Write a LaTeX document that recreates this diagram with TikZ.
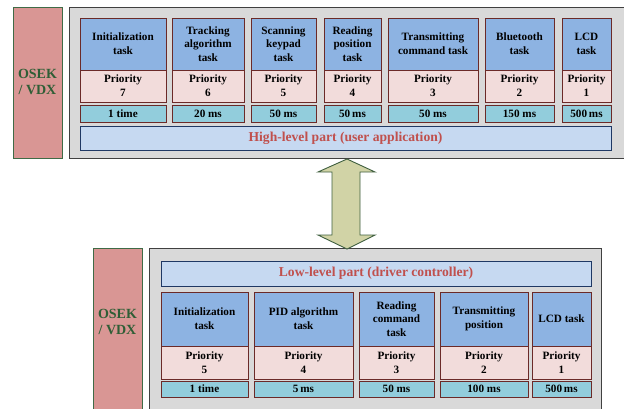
\documentclass[tikz,border=0pt]{standalone}
\usepackage{fontspec}
\setmainfont{Liberation Serif}
\usetikzlibrary{fit}
\definecolor{taskblue}{HTML}{8DB3E2}
\definecolor{priopink}{HTML}{F2DCDB}
\definecolor{timecyan}{HTML}{92CDDC}
\definecolor{barblue}{HTML}{C6D9F1}
\definecolor{panelgray}{HTML}{D9D9D9}
\definecolor{osekfill}{HTML}{D99694}
\definecolor{osekline}{HTML}{3F6B46}
\definecolor{osektext}{HTML}{2F5E36}
\definecolor{redtext}{HTML}{C0504D}
\definecolor{boxline}{HTML}{6B2A28}
\definecolor{barline}{HTML}{1F3864}
\definecolor{arrowfill}{HTML}{D1D3A6}
\definecolor{arrowline}{HTML}{3F5F3F}
\tikzset{
  txt/.style={inner sep=0pt, align=center, font=\fontsize{11.2}{13.8}\selectfont\bfseries},
  bartxt/.style={inner sep=0pt, text=redtext, font=\fontsize{13.6}{15}\selectfont\bfseries},
  osektxt/.style={inner sep=0pt, align=center, text=osektext, font=\fontsize{14}{16}\selectfont\bfseries},
  taskbox/.style={inner sep=0pt, draw=boxline, fill=taskblue, line width=0.8pt},
  priobox/.style={inner sep=0pt, draw=boxline, fill=priopink, line width=0.8pt},
  timebox/.style={inner sep=0pt, draw=boxline, fill=timecyan, line width=0.8pt},
  barbox/.style={inner sep=0pt, draw=barline, fill=barblue, line width=0.8pt},
  panel/.style={inner sep=0pt, draw=black!75, fill=panelgray, line width=1pt},
  osek/.style={inner sep=0pt, draw=osekline, fill=osekfill, line width=1pt},
}
\newcommand\mytask[6]{%
  \node[taskbox, fit={(#2,\ya)(#3,\yb)}] (#1t) {};
  \node[txt] (#1tl) at (#1t.center) {#4};
  \node[priobox, fit={(#2,\yb)(#3,\yc)}] (#1p) {};
  \node[txt] (#1pl) at (#1p.center) {Priority\\#5};
  \node[timebox, fit={(#2,\yd)(#3,\ye)}] (#1m) {};
  \node[txt] (#1ml) at (#1m.center) {#6};
}
\begin{document}
\begin{tikzpicture}[x=1pt,y=-1pt]
\useasboundingbox (0,0) rectangle (624,408);
% top part
\node[osek, fit={(13,7)(62,158)}] (osekA) {};
\node[osektxt] (osekAl) at (37.5,82) {OSEK\\/ VDX};
\node[panel, fit={(69,7)(640,158)}] (panelA) {};
\def\ya{18}\def\yb{70}\def\yc{102}\def\yd{105}\def\ye{122}
\mytask{a1}{80}{166}{Initialization\\task}{7}{1 time}
\mytask{a2}{172}{244}{Tracking\\algorithm\\task}{6}{20 ms}
\mytask{a3}{251}{316}{Scanning\\keypad\\task}{5}{50 ms}
\mytask{a4}{324}{381}{Reading\\position\\task}{4}{50\,ms}
\mytask{a5}{388}{478}{Transmitting\\command task}{3}{50 ms}
\mytask{a6}{485}{554}{Bluetooth\\task}{2}{150 ms}
\mytask{a7}{562}{611}{LCD\\task}{1}{500\,ms}
\node[barbox, fit={(80,126)(611,150)}] (barA) {};
\node[bartxt] (barAl) at (barA.center) {High-level part (user application)};
% bottom part
\node[osek, fit={(93,248)(142,420)}] (osekB) {};
\node[osektxt] (osekBl) at (117.5,322) {OSEK\\/ VDX};
\node[panel, fit={(149,248)(601,420)}] (panelB) {};
\node[barbox, fit={(161,261)(591,286)}] (barB) {};
\node[bartxt] (barBl) at (barB.center) {Low-level part (driver controller)};
\def\ya{292}\def\yb{346}\def\yc{379}\def\yd{381}\def\ye{397}
\mytask{b1}{161}{248}{Initialization\\task}{5}{1 time}
\mytask{b2}{254}{353}{PID algorithm\\task}{4}{5\,ms}
\mytask{b3}{359}{434}{Reading\\command\\task}{3}{50 ms}
\mytask{b4}{440}{528}{Transmitting\\position}{2}{100 ms}
\mytask{b5}{532}{591}{LCD task}{1}{500\,ms}
% double arrow
\draw[draw=arrowline, fill=arrowfill, line width=0.9pt, line join=miter]
  (347,159) -- (318,172) -- (332,172) -- (332,235) -- (318,235) -- (347,249)
  -- (375,235) -- (360,235) -- (360,172) -- (375,172) -- cycle;
\end{tikzpicture}
\end{document}
